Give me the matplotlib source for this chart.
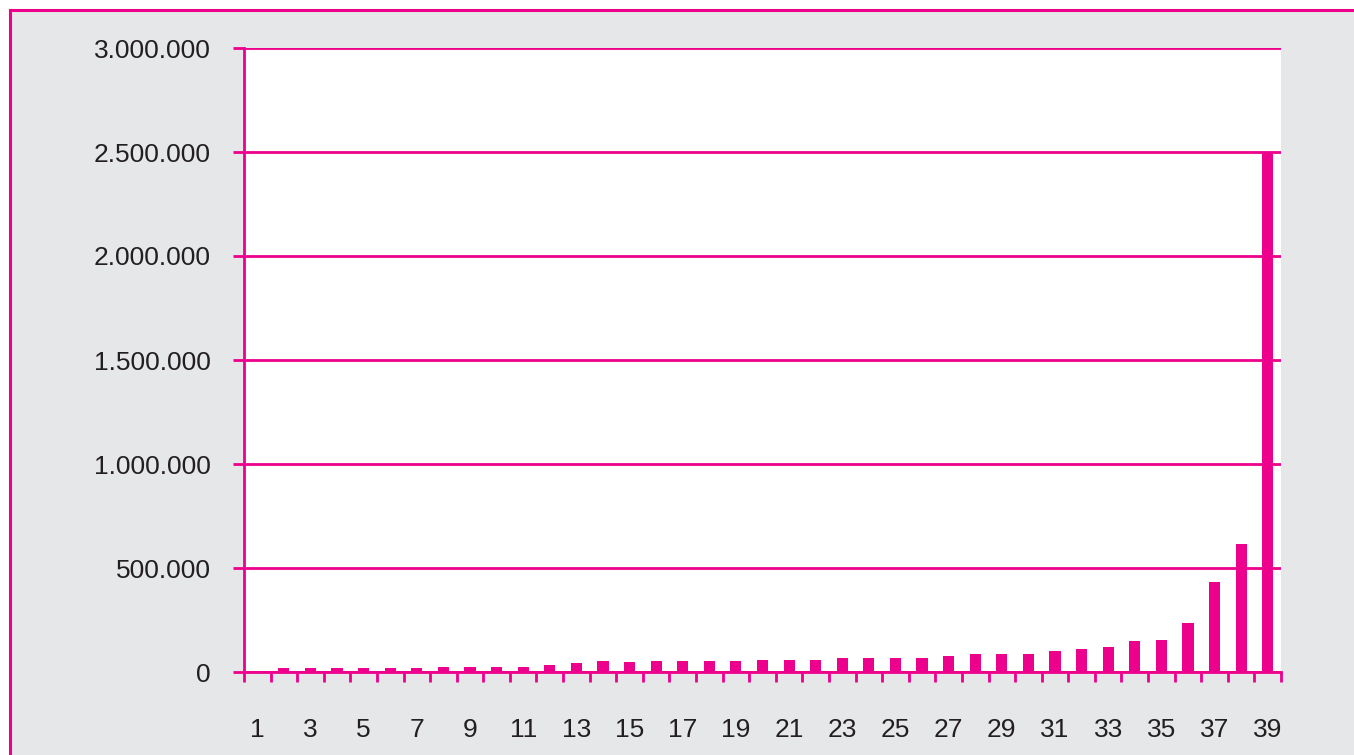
import matplotlib
matplotlib.use("Agg")
import matplotlib.pyplot as plt
from matplotlib.ticker import FuncFormatter, FixedLocator
from matplotlib.patches import Rectangle

categories = list(range(1, 40))
values = [0, 19000, 19000, 19000, 19000, 19000, 19000, 24000, 24000, 24000,
          24000, 33600, 43000, 53000, 48000, 53000, 53000, 53000, 53000, 58000,
          58000, 58000, 67000, 67000, 67000, 67000, 77000, 86500, 86500, 86500,
          101000, 110000, 120000, 149000, 154000, 235000, 433000, 615000, 2500000]
y_ticks = [0, 500000, 1000000, 1500000, 2000000, 2500000, 3000000]
x_labels = [str(c) for c in categories[::2]]

PINK = "#ec008c"
GREY = "#e6e7e8"
TEXT = "#231f20"
W, H = 1354, 755

plt.rcParams['font.family'] = ['Liberation Sans', 'DejaVu Sans']
fig = plt.figure(figsize=(W / 100, H / 100), dpi=100, facecolor="white")

# grey panel with pink frame (top and left visible)
fig.add_artist(Rectangle((9.5 / W, 0), 1 - 9.5 / W, 1 - 10 / H,
                         transform=fig.transFigure, facecolor=GREY,
                         edgecolor="none", zorder=-10))
fig.add_artist(plt.Line2D([9.5 / W, 9.5 / W], [0, 1 - 10 / H], color=PINK,
                          lw=2.2, transform=fig.transFigure, zorder=-5))
fig.add_artist(plt.Line2D([9.5 / W, 1], [1 - 10 / H, 1 - 10 / H], color=PINK,
                          lw=2.2, transform=fig.transFigure, zorder=-5))

ax = fig.add_axes([244 / W, (H - 672) / H, (1281 - 244) / W, 624 / H])
ax.set_zorder(1)
ax.set_facecolor("white")
ax.bar(categories, values, width=0.42, color=PINK, zorder=3)

ax.set_xlim(0.5, 39.5)
ax.set_ylim(0, 3000000)
ax.yaxis.set_major_locator(FixedLocator(y_ticks))
ax.yaxis.set_major_formatter(FuncFormatter(lambda v, p: f"{int(v):,}".replace(",", ".")))
ax.grid(axis="y", color=PINK, lw=2, zorder=1)
ax.set_axisbelow(True)

ax.set_xticks(categories[::2])
ax.set_xticklabels(x_labels)
ax.set_xticks([c + 0.5 for c in range(0, 40)], minor=True)
ax.tick_params(axis="x", which="major", length=0, pad=33, labelsize=19, labelcolor=TEXT)
ax.tick_params(axis="x", which="minor", length=7.5, width=2, color=PINK, direction="out")
ax.tick_params(axis="y", which="major", length=8, width=2, color=PINK, pad=16,
               labelsize=19, labelcolor=TEXT)

for s in ["top", "right"]:
    ax.spines[s].set_visible(False)
ax.spines["left"].set_color(PINK)
ax.spines["left"].set_linewidth(2)
ax.spines["bottom"].set_color(PINK)
ax.spines["bottom"].set_linewidth(2)
ax.spines["bottom"].set_zorder(4)

fig.savefig("out.png", dpi=100, facecolor=fig.get_facecolor())
